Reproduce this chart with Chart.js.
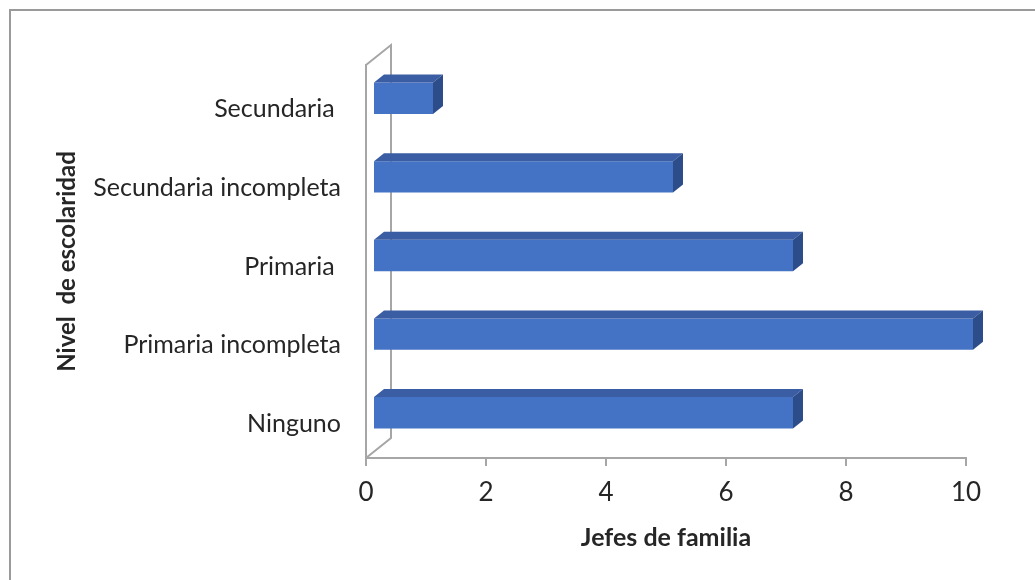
<!DOCTYPE html>
<html>
<head>
<meta charset="utf-8">
<script src="https://cdn.jsdelivr.net/npm/chart.js@4"></script>
<style>
  html, body { margin: 0; padding: 0; background: #ffffff; }
  #wrap { width: 1035px; height: 580px; position: relative; }
</style>
</head>
<body>
<div id="wrap"><canvas id="c" width="1035" height="580"></canvas></div>
<script>
// ---- data ----
const categories = ['Secundaria ', 'Secundaria incompleta', 'Primaria ', 'Primaria incompleta', 'Ninguno'];
const jefesDeFamilia = [1, 5, 7, 10, 7];
const xTicks = [0, 2, 4, 6, 8, 10];
const xTitle = 'Jefes de familia';
const yTitle = 'Nivel  de escolaridad';

// ---- styles ----
const FRONT = '#4472C4';
const TOP = '#3A5DA3';
const SIDE = '#2D4C8A';
const AXIS = '#A6A6A6';
const TEXT = '#262626';
const SHIFT_X = 7, SHIFT_Y = -6;   // bar offset inside the 3D box
const DX = 10, DY = 8;             // bar depth
const WALL_DX = 25, WALL_DY = 20;  // back wall depth

const frame = {
  id: 'frame',
  beforeDraw(chart) {
    const ctx = chart.ctx;
    ctx.save();
    ctx.strokeStyle = '#9a9a9a';
    ctx.lineWidth = 2;
    ctx.beginPath();
    ctx.moveTo(10, 580);
    ctx.lineTo(10, 10);
    ctx.lineTo(1035, 10);
    ctx.stroke();
    ctx.restore();
  }
};

const box3d = {
  id: 'box3d',
  beforeDatasetsDraw(chart) {
    const { ctx, chartArea: a } = chart;
    ctx.save();
    ctx.strokeStyle = AXIS;
    ctx.lineWidth = 2;
    ctx.beginPath();
    ctx.moveTo(a.left, a.top);
    ctx.lineTo(a.left + WALL_DX, a.top - WALL_DY);
    ctx.lineTo(a.left + WALL_DX, a.bottom - WALL_DY);
    ctx.lineTo(a.left, a.bottom);
    ctx.stroke();
    ctx.restore();
  },
  beforeDatasetDraw(chart) {
    chart.ctx.save();
    chart.ctx.translate(SHIFT_X, SHIFT_Y);
  },
  afterDatasetDraw(chart, args) {
    const ctx = chart.ctx;
    const meta = args.meta;
    meta.data.forEach(bar => {
      const p = bar.getProps(['x', 'y', 'base', 'height'], true);
      const x0 = Math.min(p.x, p.base), x1 = Math.max(p.x, p.base);
      const t = p.y - p.height / 2, b = p.y + p.height / 2;
      ctx.fillStyle = TOP;
      ctx.beginPath();
      ctx.moveTo(x0, t);
      ctx.lineTo(x0 + DX, t - DY);
      ctx.lineTo(x1 + DX, t - DY);
      ctx.lineTo(x1, t);
      ctx.closePath();
      ctx.fill();
      ctx.fillStyle = SIDE;
      ctx.beginPath();
      ctx.moveTo(x1, t);
      ctx.lineTo(x1 + DX, t - DY);
      ctx.lineTo(x1 + DX, b - DY);
      ctx.lineTo(x1, b);
      ctx.closePath();
      ctx.fill();
    });
    ctx.restore();
  }
};

new Chart(document.getElementById('c'), {
  type: 'bar',
  data: {
    labels: categories,
    datasets: [{
      data: jefesDeFamilia,
      backgroundColor: FRONT,
      borderWidth: 0,
      barPercentage: 0.4,
      categoryPercentage: 1.0
    }]
  },
  options: {
    indexAxis: 'y',
    responsive: false,
    animation: false,
    layout: { padding: { left: 53, right: 69, top: 65, bottom: 27 } },
    plugins: { legend: { display: false }, tooltip: { enabled: false } },
    scales: {
      x: {
        min: 0, max: 10,
        afterBuildTicks(scale) { scale.ticks = xTicks.map(v => ({ value: v })); },
        afterFit(scale) { scale.height = 95; },
        grid: { drawOnChartArea: false, drawTicks: true, tickLength: 8, color: AXIS, lineWidth: 2 },
        border: { display: true, color: AXIS, width: 2 },
        ticks: { color: TEXT, font: { family: 'Lato', size: 26 }, padding: 11 },
        title: {
          display: true, text: xTitle, color: TEXT,
          font: { family: 'Lato', size: 25, weight: 'bold' },
          padding: { top: 0, bottom: 0 }
        }
      },
      y: {
        afterFit(scale) { scale.width = 313; },
        grid: { display: false, drawTicks: false },
        border: { display: true, color: AXIS, width: 2 },
        ticks: { color: TEXT, font: { family: 'Lato', size: 25 }, padding: 25, labelOffset: 5 },
        title: {
          display: true, text: yTitle, color: TEXT,
          font: { family: 'Lato', size: 24, weight: 'bold' },
          padding: { top: 0, bottom: 0 }
        }
      }
    }
  },
  plugins: [frame, box3d]
});
</script>
</body>
</html>
